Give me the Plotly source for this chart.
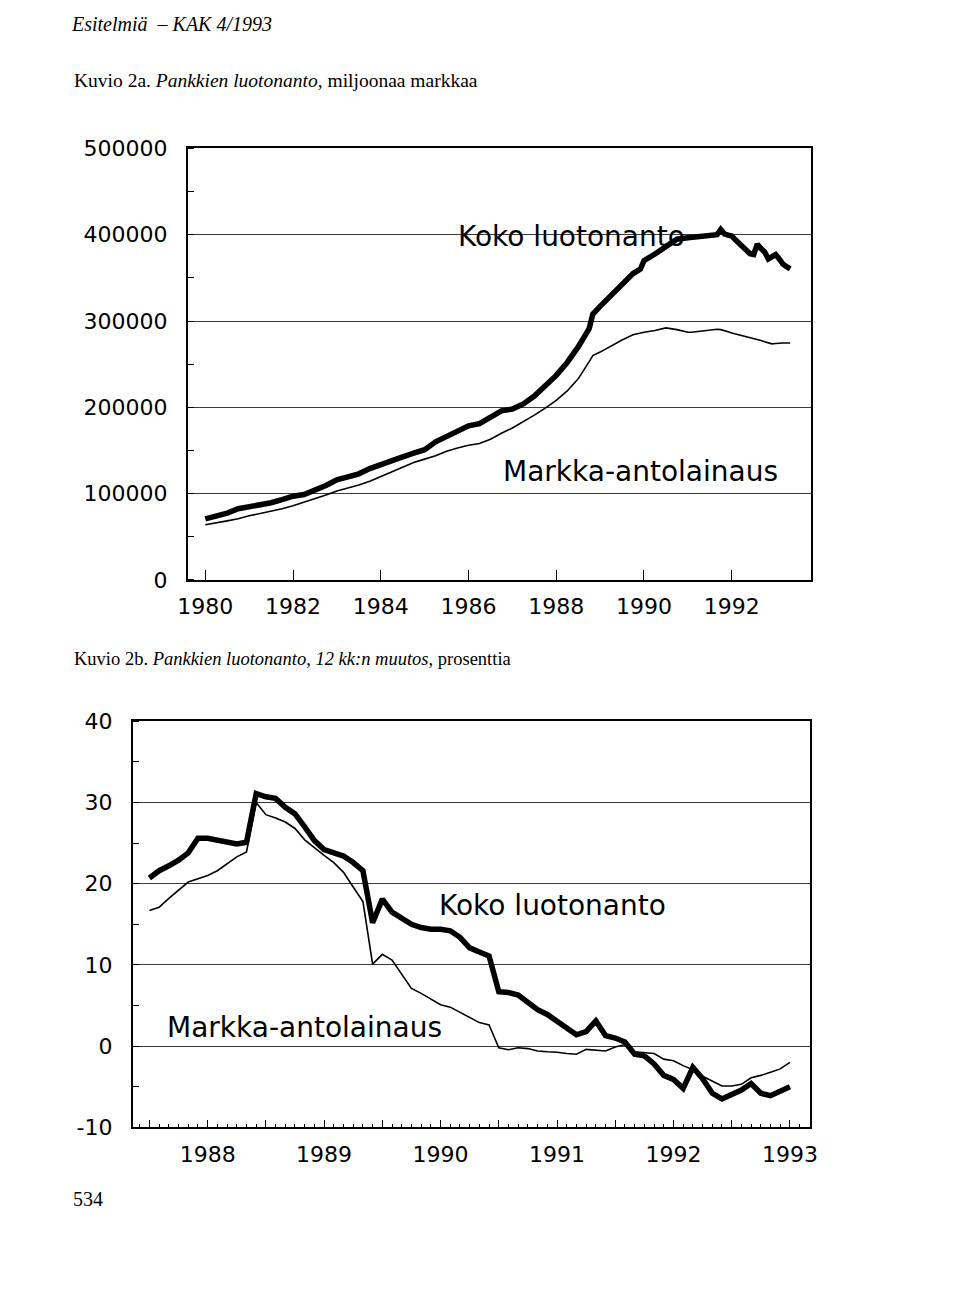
import plotly.graph_objects as go

W, H = 960, 1314

# ---------------- Kuvio 2a data (miljoonaa markkaa) ----------------
top_dates = (
    ["1980-01", "1980-04", "1980-07", "1980-10",
     "1981-01", "1981-04", "1981-07", "1981-10",
     "1982-01", "1982-04", "1982-07", "1982-10",
     "1983-01", "1983-04", "1983-07", "1983-10",
     "1984-01", "1984-04", "1984-07", "1984-10",
     "1985-01", "1985-04", "1985-07", "1985-10",
     "1986-01", "1986-04", "1986-07", "1986-10",
     "1987-01", "1987-04", "1987-07", "1987-10",
     "1988-01", "1988-04", "1988-07", "1988-10", "1988-11",
     "1989-01", "1989-04", "1989-07", "1989-10", "1989-12",
     "1990-01", "1990-04", "1990-07", "1990-10"]
    + ["1991-%02d" % m for m in range(1, 13)]
    + ["1992-%02d" % m for m in range(1, 13)]
    + ["1993-%02d" % m for m in range(1, 6)]
)

top_total = [
    70800, 74000, 77500, 82500,
    84500, 86000, 89500, 93000,
    97000, 99000, 104000, 109500,
    116000, 119500, 123000, 129000,
    134000, 138500, 142500, 147000,
    151000, 160000, 166000, 172000,
    178500, 181000, 188000, 196000,
    198000, 204000, 213000, 224000,
    237000, 252000, 270000, 291000, 308000,
    317000, 330000, 343500, 355000, 360000,
    370000, 377600, 387000, 394700,
    396500, 397000, 397500, 398000, 398000, 398500,
    399000, 399500, 400000, 406000, 401000, 399500,
    398500, 394000, 390000, 386000, 382000, 378000,
    377000, 389000, 384000, 380000, 372000, 374000,
    377000, 372000, 366000, 363000, 360500,
]

top_markka = [
    64000, 66000, 68500, 71000,
    74500, 77000, 79500, 82500,
    86000, 90000, 94000, 98500,
    103000, 106500, 110000, 114500,
    120000, 125500, 131000, 136000,
    140000, 144000, 149000, 153000,
    156000, 158000, 163000, 170000,
    176000, 183000, 191000, 199000,
    208000, 219000, 233000, 253000, 260000,
    264000, 271000, 278000, 284000, 286500,
    287000, 289000, 292000, 290000,
    287000, 287000, 287500, 288000, 288500, 289000,
    289500, 290000, 290500, 290000, 289000, 287500,
    286000, 285000, 284000, 283000, 282000, 281000,
    280000, 279000, 277500, 276000, 274500, 273500,
    274000, 274500, 274500, 274600, 274600,
]

top_xticks = [1980, 1982, 1984, 1986, 1988, 1990, 1992]
top_yticks = [0, 100000, 200000, 300000, 400000, 500000]

# ---------------- Kuvio 2b data (12 kk:n muutos, %) ----------------
bottom_months = (["1987-%02d" % m for m in range(7, 13)]
                 + ["%d-%02d" % (y, m) for y in range(1988, 1993) for m in range(1, 13)]
                 + ["1993-01"])

bottom_total = [
    20.7, 21.6, 22.2, 22.9, 23.8, 25.6,
    25.6, 25.4, 25.2, 24.9, 25.1, 31.1, 30.7, 30.5, 29.4, 28.6, 27.0, 25.3,
    24.2, 23.8, 23.4, 22.6, 21.6, 15.2, 18.1, 16.5, 15.8, 15.0, 14.6, 14.4,
    14.4, 14.2, 13.4, 12.1, 11.6, 11.1, 6.7, 6.6, 6.3, 5.3, 4.5, 3.9,
    3.1, 2.4, 1.4, 1.8, 3.1, 1.3, 1.0, 0.5, -1.0, -1.2, -2.2, -3.6,
    -4.1, -5.2, -2.6, -4.0, -5.8, -6.5, -6.0, -5.4, -4.6, -5.8, -6.1, -5.6,
    -5.0,
]

bottom_markka = [
    16.7, 17.1, 18.2, 19.2, 20.2, 20.6,
    21.0, 21.6, 22.4, 23.3, 23.9, 30.0, 28.5, 28.1, 27.6, 26.8, 25.4, 24.4,
    23.5, 22.6, 21.4, 19.6, 17.8, 10.1, 11.3, 10.6, 8.9, 7.1, 6.5, 5.8,
    5.1, 4.8, 4.2, 3.6, 2.9, 2.6, -0.2, -0.45, -0.2, -0.3, -0.6, -0.7,
    -0.75, -0.9, -1.0, -0.4, -0.5, -0.6, -0.1, 0.2, -0.7, -0.8, -0.9, -1.6,
    -1.8, -2.4, -2.9, -3.7, -4.3, -4.9, -4.9, -4.7, -3.9, -3.6, -3.2, -2.8,
    -2.0,
]

bottom_years = [1988, 1989, 1990, 1991, 1992, 1993]
bottom_yticks = [-10, 0, 10, 20, 30, 40]


def to_year(s):
    y, m = s.split("-")
    return int(y) + (int(m) - 1) / 12.0


top_x = [to_year(d) for d in top_dates]
bot_x = [to_year(d) for d in bottom_months]

TICKFONT = dict(family="DejaVu Sans", size=22, color="black")
LBLFONT = dict(family="DejaVu Sans", size=28, color="black")
SERIF = "Liberation Serif, Times New Roman, serif"

fig = go.Figure()

fig.add_trace(go.Scatter(x=top_x, y=top_markka, mode="lines",
                         line=dict(color="black", width=1.6),
                         xaxis="x", yaxis="y", name="Markka-antolainaus"))
fig.add_trace(go.Scatter(x=top_x, y=top_total, mode="lines",
                         line=dict(color="black", width=5.5),
                         xaxis="x", yaxis="y", name="Koko luotonanto"))
fig.add_trace(go.Scatter(x=bot_x, y=bottom_markka, mode="lines",
                         line=dict(color="black", width=1.6),
                         xaxis="x2", yaxis="y2", name="Markka-antolainaus"))
fig.add_trace(go.Scatter(x=bot_x, y=bottom_total, mode="lines",
                         line=dict(color="black", width=5.5),
                         xaxis="x2", yaxis="y2", name="Koko luotonanto"))

half_vals = []
half_text = []
for y in bottom_years:
    half_vals += [y - 0.5, y]
    half_text += ["", str(y)]

axis_common = dict(showline=True, mirror=True, linecolor="black", linewidth=1.5,
                   tickcolor="black", tickfont=TICKFONT, zeroline=False)

fig.update_layout(
    width=W, height=H,
    margin=dict(l=0, r=0, t=0, b=0),
    paper_bgcolor="white", plot_bgcolor="white",
    showlegend=False,
    xaxis=dict(domain=[181 / W, 816 / W], range=[1979.597, 1993.80],
               tickmode="array", tickvals=top_xticks,
               ticktext=[str(v) for v in top_xticks],
               ticks="inside", ticklen=10, showgrid=False,
               ticklabelstandoff=6, anchor="y", **axis_common),
    yaxis=dict(domain=[1 - 579 / H, 1 - 139 / H], range=[0, 500000],
               tickmode="array", tickvals=top_yticks,
               ticktext=[str(v) for v in top_yticks],
               ticks="", showgrid=True, gridcolor="#3a3a3a", gridwidth=1,
               minor=dict(dtick=50000, tick0=0, ticks="inside", ticklen=7,
                          tickcolor="black", showgrid=False),
               ticklabelstandoff=14, anchor="x", **axis_common),
    xaxis2=dict(domain=[125 / W, 815 / W], range=[1987.356, 1993.17],
                tickmode="array", tickvals=half_vals, ticktext=half_text,
                ticks="inside", ticklen=8, showgrid=False,
                minor=dict(tick0=1987.5, dtick=1 / 12.0, ticks="inside",
                           ticklen=4, tickcolor="black", showgrid=False),
                ticklabelstandoff=6, anchor="y2", **axis_common),
    yaxis2=dict(domain=[1 - 1137 / H, 1 - 723 / H], range=[-10, 40],
                tickmode="array", tickvals=bottom_yticks,
                ticktext=[str(v) for v in bottom_yticks],
                ticks="", showgrid=True, gridcolor="#3a3a3a", gridwidth=1,
                minor=dict(dtick=5, tick0=0, ticks="inside", ticklen=7,
                           tickcolor="black", showgrid=False),
                ticklabelstandoff=14, anchor="x2", **axis_common),
)


def px(x):
    return x / W


def py(y):
    return 1 - y / H


ann = [
    dict(text="<i>Esitelmiä  – KAK 4/1993</i>", x=px(60), y=py(12),
         xanchor="left", yanchor="middle", font=dict(family=SERIF, size=20, color="black")),
    dict(text="Kuvio 2a. <i>Pankkien luotonanto</i>, miljoonaa markkaa", x=px(63), y=py(70),
         xanchor="left", yanchor="middle", font=dict(family=SERIF, size=19.5, color="black")),
    dict(text="Kuvio 2b. <i>Pankkien luotonanto, 12 kk:n muutos</i>, prosenttia", x=px(63), y=py(660),
         xanchor="left", yanchor="middle", font=dict(family=SERIF, size=18.5, color="black")),
    dict(text="534", x=px(62), y=py(1210), xanchor="left", yanchor="middle",
         font=dict(family=SERIF, size=20, color="black")),
    dict(text="Koko luotonanto", x=px(455), y=py(229), xanchor="left", yanchor="middle",
         font=LBLFONT),
    dict(text="Markka-antolainaus", x=px(643), y=py(468), xanchor="center", yanchor="middle",
         font=LBLFONT),
    dict(text="Koko luotonanto", x=px(435), y=py(911), xanchor="left", yanchor="middle",
         font=LBLFONT),
    dict(text="Markka-antolainaus", x=px(300), y=py(1035), xanchor="center", yanchor="middle",
         font=LBLFONT),
]
for a in ann:
    a.update(xref="paper", yref="paper", showarrow=False)
fig.update_layout(annotations=ann)

fig.write_html("out.html")
